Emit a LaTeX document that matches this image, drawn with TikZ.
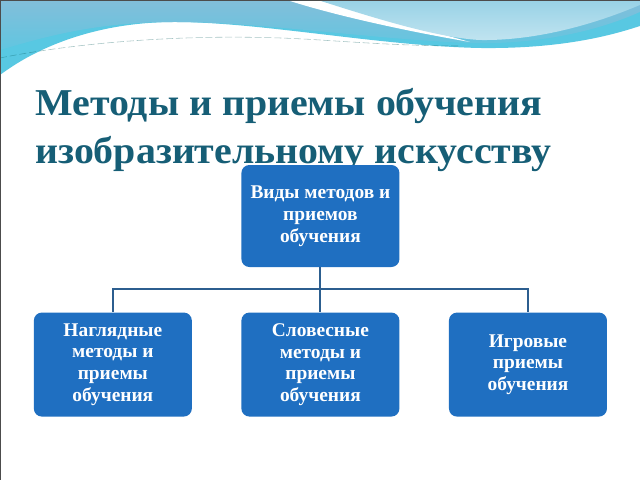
\documentclass[tikz,border=0pt]{standalone}
\usepackage{fontspec}
\setmainfont{Liberation Serif}
\newfontfamily\titlefont[FakeStretch=1.05]{Liberation Serif}
\usetikzlibrary{positioning}
\definecolor{boxc}{RGB}{31,111,193}
\definecolor{titlec}{RGB}{22,94,118}
\definecolor{linec}{RGB}{44,94,143}
\definecolor{wavec}{RGB}{130,190,218}
\definecolor{cyanc}{RGB}{88,200,226}
\definecolor{lightc}{RGB}{152,210,230}
\tikzstyle{method} = [
  rectangle,
  rounded corners=0.2cm,
  fill=boxc,
  text=white,
  font=\bfseries\fontsize{13.8}{15.5}\selectfont,
  align=center,
  minimum width=3.95cm,
  minimum height=2.6cm,
]
\tikzstyle{title} = [
  font=\titlefont\bfseries\fontsize{27}{33}\selectfont,
  text=titlec,
  inner sep=0pt,
]
\tikzstyle{link} = [draw=linec, line width=1.4pt]

\begin{document}
\begin{tikzpicture}
    \useasboundingbox (0,0) rectangle (16,12);
    \fill[white] (0,0) rectangle (16,12);

    % Waves
    \begin{scope}[shift={(0,12)}, x=0.025cm, y=-0.025cm]
        \fill[cyanc] (0,0) -- (640,0) -- (640,26)
            .. controls (610,36) and (560,49) .. (480,48)
            .. controls (380,46) and (260,22) .. (175,22)
            .. controls (100,22) and (40,45) .. (0,75) -- cycle;
        \shade[top color=wavec, bottom color=cyanc!80!wavec] (0,0) -- (640,0) -- (640,12)
            .. controls (600,30) and (540,45) .. (470,43)
            .. controls (380,40) and (260,22) .. (175,22)
            .. controls (100,22) and (50,35) .. (0,50) -- cycle;
        \fill[white] (287,0) .. controls (330,14) and (400,30) .. (470,42)
            .. controls (420,28) and (360,12) .. (318,0) -- cycle;
        \shade[top color=lightc, bottom color=lightc!60!white] (318,0)
            .. controls (380,20) and (440,38) .. (480,40)
            .. controls (540,41) and (600,22) .. (640,5) -- (640,0) -- cycle;
        \draw[dash pattern=on 5pt off 2pt, teal!70!black, line width=0.4pt, opacity=0.35]
            (0,58) .. controls (80,42) and (200,32) .. (320,40)
            .. controls (380,44) and (420,46) .. (460,46);
        \draw[gray!60!black, line width=0.8pt] (0,480) -- (0,0) -- (640,0);
    \end{scope}

    % Title
    \node[title, anchor=base west] (title1) at (0.875,9.1) {Методы и приемы обучения};
    \node[title, anchor=base west] (title2) at ([yshift=-1.175cm]title1.base west) {изобразительному искусству};

    % Boxes
    \node[method, minimum height=2.55cm] (vid) at (8.01,6.6) {Виды методов и\\приемов\\обучения};
    \node[method, below=1.125cm of vid] (slov) {Словесные\\методы и\\приемы\\обучения};
    \node[method, left=1.225cm of slov] (nagl) {Наглядные\\методы и\\приемы\\обучения};
    \node[method, right=1.225cm of slov] (igr) {Игровые\\приемы\\обучения};

    % Lines
    \coordinate[below=0.55cm of vid.south] (bus);
    \draw[link] (vid) -- (slov);
    \draw[link] (bus) -| (nagl);
    \draw[link] (bus) -| (igr);
\end{tikzpicture}
\end{document}
